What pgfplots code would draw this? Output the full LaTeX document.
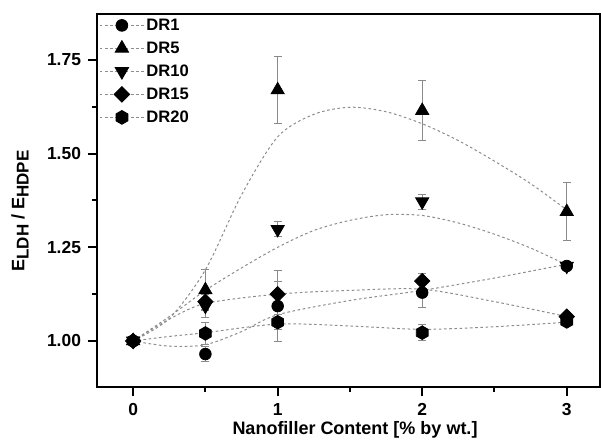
\documentclass[border=0pt]{standalone}
\usepackage{fontspec}
\setmainfont{Liberation Sans}
\usepackage{pgfplots}
\pgfplotsset{compat=1.18}
\pgfdeclareplotmark{hexagon*}{%
 \pgfpathmoveto{\pgfqpointpolar{90}{\pgfplotmarksize}}%
 \pgfpathlineto{\pgfqpointpolar{150}{\pgfplotmarksize}}%
 \pgfpathlineto{\pgfqpointpolar{210}{\pgfplotmarksize}}%
 \pgfpathlineto{\pgfqpointpolar{270}{\pgfplotmarksize}}%
 \pgfpathlineto{\pgfqpointpolar{330}{\pgfplotmarksize}}%
 \pgfpathlineto{\pgfqpointpolar{30}{\pgfplotmarksize}}%
 \pgfpathclose\pgfusepathqfillstroke}
\definecolor{fitgray}{HTML}{8C8C8C}
\definecolor{errgray}{HTML}{8A8A8A}
\newcommand{\sub}[1]{\raisebox{-2.2pt}{\fontsize{8.5}{9}\selectfont #1}}

\pgfplotstableread{
x y e
0 1.000 0
0.5 0.965 0.02
1 1.093 0.094
2 1.129 0.04
3 1.200 0.01
}\dra
\pgfplotstableread{
x y e
0 1.000 0
0.5 1.136 0.055
1 1.670 0.09
2 1.615 0.08
3 1.345 0.078
}\drb
\pgfplotstableread{
x y e
0 1.000 0
0.5 1.093 0.03
1 1.298 0.02
2 1.372 0.02
3 1.200 0.01
}\drc
\pgfplotstableread{
x y e
0 1.000 0
0.5 1.105 0.02
1 1.125 0.035
2 1.160 0.02
3 1.065 0.01
}\drd
\pgfplotstableread{
x y e
0 1.000 0
0.5 1.020 0.03
1 1.050 0.02
2 1.022 0.022
3 1.052 0.01
}\dre

\begin{document}
\begin{tikzpicture}
\useasboundingbox (-48.5pt,-27pt) rectangle (252pt,193.5pt);
\begin{axis}[
 scale only axis, width=251.5pt, height=186.5pt,
 xmin=-0.25, xmax=3.23, ymin=0.877, ymax=1.873,
 axis line style={line width=1pt},
 xtick={0,1,2,3}, minor xtick={0.5,1.5,2.5},
 ytick={1,1.25,1.5,1.75}, minor ytick={1.125,1.375,1.625},
 tick align=outside, xtick pos=bottom, ytick pos=left,
 major tick length=4.5pt, minor tick length=2.5pt,
 every tick/.style={line width=1pt, black},
 yticklabel style={/pgf/number format/.cd, fixed, fixed zerofill, precision=2},
 ticklabel style={font=\bfseries\fontsize{8.7}{9}\selectfont},
 /pgf/number format/assume math mode=true,
 xlabel={Nanofiller Content [\% by wt.]},
 ylabel={E\sub{LDH} / E\sub{HDPE}},
 label style={font=\bfseries\fontsize{9}{10}\selectfont},
 xlabel style={at={(axis description cs:0.5,0)}, anchor=base, xshift=3.25pt, yshift=-23.5pt},
 ylabel style={at={(axis description cs:0,0.472)}, anchor=center, rotate=0, yshift=38.5pt},
 fitline/.style={draw=fitgray, line width=0.5pt, dash pattern=on 1.3pt off 1.3pt, smooth, no marks, forget plot},
 pts/.style={only marks, black, mark options={fill=black, draw=black}, forget plot,
   error bars/y dir=both, error bars/y explicit,
   error bars/error bar style={errgray, line width=0.5pt},
   error bars/error mark options={rotate=90, errgray, mark size=2pt, line width=0.5pt}},
 legend style={at={(axis description cs:0,1)}, anchor=north west, draw=none, fill=none,
   font=\bfseries\fontsize{8.3}{9}\selectfont, inner xsep=1pt, inner ysep=1pt, row sep=2.5pt,
   nodes={inner sep=1pt, text height=6pt, text depth=1pt}},
 legend cell align=left,
 legend image code/.code={\draw[mark repeat=2,mark phase=2,#1] plot coordinates {(0pt,0pt)(11pt,0pt)(22pt,0pt)};},
]
% fit curves
\addplot[fitline] coordinates {(0,1.00)(0.25,1.06)(0.5,1.19)(0.75,1.39)(1,1.545)(1.25,1.605)(1.5,1.624)(1.75,1.612)(2,1.58)(2.25,1.535)(2.5,1.48)(2.75,1.42)(3,1.35)};
\addplot[fitline] coordinates {(0,1.00)(0.25,1.065)(0.5,1.135)(0.75,1.195)(1,1.25)(1.25,1.295)(1.5,1.322)(1.75,1.337)(2,1.335)(2.25,1.315)(2.5,1.285)(2.75,1.248)(3,1.203)};
\addplot[fitline] coordinates {(0,1.00)(0.25,1.058)(0.5,1.10)(1,1.125)(1.5,1.135)(2,1.138)(2.5,1.105)(3,1.065)};
\addplot[fitline] coordinates {(0,1.00)(0.25,0.986)(0.5,0.99)(0.75,1.025)(1,1.07)(1.5,1.108)(2,1.135)(2.5,1.168)(3,1.205)};
\addplot[fitline] coordinates {(0,1.00)(0.25,1.012)(0.5,1.022)(1,1.045)(1.5,1.040)(2,1.031)(2.5,1.038)(3,1.05)};
% data
\addplot[pts, mark=*, mark size=2.9pt] table[x=x,y=y,y error=e] {\dra};
\addplot[pts, mark=triangle*, mark size=3.8pt] table[x=x,y=y,y error=e] {\drb};
\addplot[pts, mark=triangle*, mark size=3.8pt, mark options={rotate=180}] table[x=x,y=y,y error=e] {\drc};
\addplot[pts, mark=square*, mark size=2.7pt, mark options={rotate=45}] table[x=x,y=y,y error=e] {\drd};
\addplot[pts, mark=hexagon*, mark size=3.4pt] table[x=x,y=y,y error=e] {\dre};
% legend
\addlegendimage{fitgray, line width=0.5pt, dash pattern=on 1.3pt off 1.3pt, mark=*, mark size=2.9pt, mark options={solid, fill=black, draw=black}}
\addlegendentry{DR1}
\addlegendimage{fitgray, line width=0.5pt, dash pattern=on 1.3pt off 1.3pt, mark=triangle*, mark size=3.8pt, mark options={solid, fill=black, draw=black}}
\addlegendentry{DR5}
\addlegendimage{fitgray, line width=0.5pt, dash pattern=on 1.3pt off 1.3pt, mark=triangle*, mark size=3.8pt, mark options={solid, fill=black, draw=black, rotate=180}}
\addlegendentry{DR10}
\addlegendimage{fitgray, line width=0.5pt, dash pattern=on 1.3pt off 1.3pt, mark=square*, mark size=2.7pt, mark options={solid, fill=black, draw=black, rotate=45}}
\addlegendentry{DR15}
\addlegendimage{fitgray, line width=0.5pt, dash pattern=on 1.3pt off 1.3pt, mark=hexagon*, mark size=3.4pt, mark options={solid, fill=black, draw=black}}
\addlegendentry{DR20}
\end{axis}
\end{tikzpicture}
\end{document}
